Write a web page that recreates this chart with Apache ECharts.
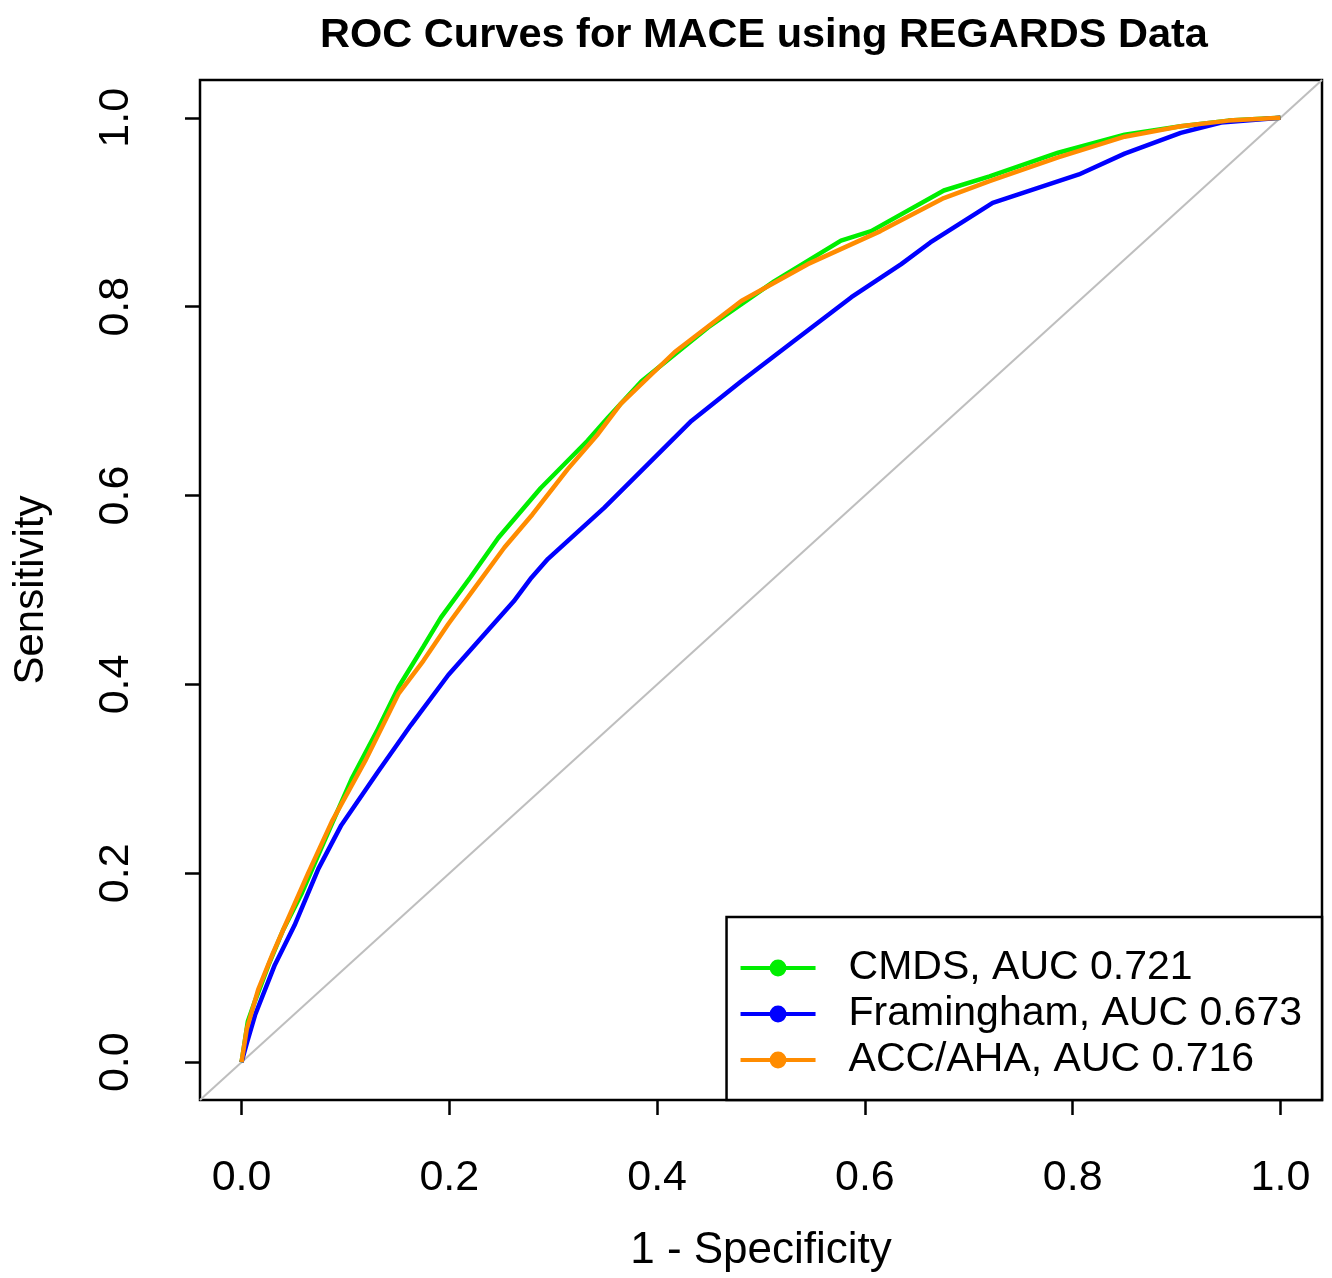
<!DOCTYPE html>
<html>
<head>
<meta charset="utf-8">
<script src="https://cdn.jsdelivr.net/npm/echarts@6/dist/echarts.min.js"></script>
<style>html,body{margin:0;padding:0;background:#fff}#c{width:1332px;height:1278px}</style>
</head>
<body>
<div id="c"></div>
<script>
// ROC curve points: [1 - specificity, sensitivity]
const cmds = [[0,0],[0.006,0.043],[0.013,0.065],[0.026,0.103],[0.04,0.14],[0.058,0.179],[0.08,0.235],[0.106,0.300],[0.13,0.350],[0.151,0.397],[0.175,0.44],[0.192,0.471],[0.22,0.513],[0.247,0.555],[0.288,0.608],[0.333,0.658],[0.353,0.683],[0.385,0.721],[0.449,0.778],[0.513,0.827],[0.577,0.87],[0.606,0.88],[0.676,0.923],[0.72,0.938],[0.786,0.963],[0.85,0.982],[0.904,0.991],[0.95,0.997],[1,1]];
const framingham = [[0,0],[0.005,0.02],[0.013,0.05],[0.032,0.103],[0.051,0.145],[0.074,0.205],[0.096,0.251],[0.131,0.307],[0.163,0.357],[0.199,0.41],[0.237,0.457],[0.262,0.488],[0.279,0.513],[0.295,0.533],[0.349,0.587],[0.391,0.633],[0.433,0.679],[0.481,0.721],[0.532,0.764],[0.587,0.81],[0.635,0.845],[0.663,0.868],[0.723,0.91],[0.806,0.94],[0.85,0.962],[0.904,0.984],[0.943,0.995],[1,1]];
const accaha = [[0,0],[0.005,0.035],[0.016,0.077],[0.03,0.115],[0.042,0.145],[0.064,0.2],[0.087,0.255],[0.119,0.319],[0.151,0.39],[0.175,0.425],[0.199,0.464],[0.225,0.503],[0.253,0.545],[0.28,0.58],[0.314,0.628],[0.343,0.665],[0.365,0.697],[0.417,0.752],[0.481,0.806],[0.545,0.845],[0.615,0.88],[0.676,0.915],[0.72,0.933],[0.786,0.958],[0.85,0.98],[0.904,0.991],[0.95,0.997],[1,1]];
const diagonal = [[-0.04,-0.04],[1.04,1.04]];
const seriesNames = ['CMDS, AUC 0.721','Framingham, AUC 0.673','ACC/AHA, AUC 0.716'];
const tickValues = [0,0.2,0.4,0.6,0.8,1.0];
const axisMin = -0.04, axisMax = 1.04;

const FONT = '"Liberation Sans", Arial, sans-serif';
const chart = echarts.init(document.getElementById('c'), null, {renderer:'canvas'});
const lineSeries = (name, data, color) => ({
  name, type:'line', data, showSymbol:false, symbol:'circle', symbolSize:14,
  lineStyle:{color, width:4.5}, itemStyle:{color}, animation:false, z:3
});
chart.setOption({
  animation:false,
  backgroundColor:'#fff',
  title:{text:'ROC Curves for MACE using REGARDS Data', left:759, textAlign:'center', top:10,
    textStyle:{fontFamily:FONT, fontWeight:'bold', fontSize:41.5, color:'#000'}},
  grid:{left:200, top:80, right:10, bottom:178, show:true, borderColor:'#000', borderWidth:2.5, backgroundColor:'transparent'},
  xAxis:{type:'value', min:axisMin, max:axisMax,
    name:'1 - Specificity', nameLocation:'middle', nameGap:129,
    nameTextStyle:{fontFamily:FONT, fontSize:44, color:'#000'},
    axisLine:{show:false, onZero:false},
    axisTick:{show:true, length:15, customValues:tickValues, lineStyle:{color:'#000', width:2.5}},
    axisLabel:{customValues:tickValues, margin:57, fontFamily:FONT, fontSize:43, color:'#000',
      formatter:v=>v.toFixed(1)},
    splitLine:{show:false}},
  yAxis:{type:'value', min:axisMin, max:axisMax,
    name:'Sensitivity', nameLocation:'middle', nameGap:148, nameRotate:90,
    nameTextStyle:{fontFamily:FONT, fontSize:42, color:'#000'},
    axisLine:{show:false, onZero:false},
    axisTick:{show:true, length:15, customValues:tickValues, lineStyle:{color:'#000', width:2.5}},
    axisLabel:{customValues:tickValues, rotate:90, margin:62, fontFamily:FONT, fontSize:43, color:'#000',
      formatter:v=>v.toFixed(1)},
    splitLine:{show:false}},
  legend:{data:seriesNames, orient:'vertical', right:10, bottom:178,
    backgroundColor:'#fff', borderColor:'#000', borderWidth:2.5, borderRadius:0,
    padding:[28,20,17,12], itemGap:0, itemWidth:75, itemHeight:21,
    lineStyle:{width:4},
    textStyle:{fontFamily:FONT, fontSize:41, color:'#000', lineHeight:46, padding:[0,0,0,28]}},
  series:[
    {name:'diag', type:'line', data:diagonal, showSymbol:false, lineStyle:{color:'#bebebe', width:2}, z:1, silent:true},
    lineSeries(seriesNames[0], cmds, '#00ee00'),
    lineSeries(seriesNames[1], framingham, '#0000ff'),
    lineSeries(seriesNames[2], accaha, '#ff8c00')
  ]
});
</script>
</body>
</html>
